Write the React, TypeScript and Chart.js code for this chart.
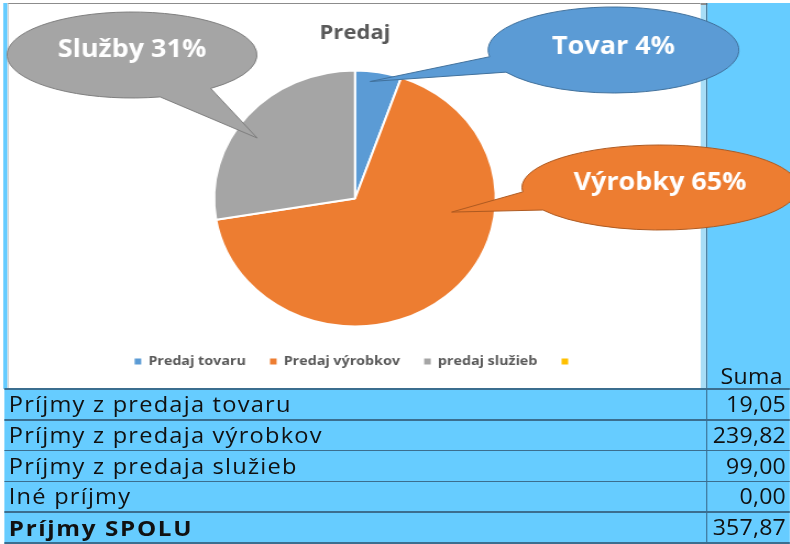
import React, { useEffect, useRef } from "react";
import { Chart, registerables } from "chart.js";

Chart.register(...registerables);

// ---- data ----
const chartTitle = "Predaj";
const legendLabels = ["Predaj tovaru", "Predaj výrobkov", "predaj služieb", ""];
const salesValues = [19.05, 239.82, 99.0, 0];
const sliceColors = ["#5B9BD5", "#ED7D31", "#A5A5A5", "#FFC000"];

const calloutTexts = ["Tovar 4%", "Výrobky 65%", "Služby 31%"];
const calloutSlices = [0, 1, 2];

const columnHeader = "Suma";
const rowLabels = [
  "Príjmy z predaja tovaru",
  "Príjmy z predaja výrobkov",
  "Príjmy z predaja služieb",
  "Iné príjmy",
];
const rowValues = [19.05, 239.82, 99.0, 0.0];
const totalLabel = "Príjmy SPOLU";
const totalValue = 357.87;

// ---- layout / style (wrapper units; whole page stretched 1.1x horizontally) ----
const STRETCH = 1.1;
const FONT = "'Open Sans', 'Noto Sans', sans-serif";
const LIGHT_BLUE = "#66CCFF";
const GRID = "#3B6E8F";

const calloutShapes = [
  { cx: 557.7, cy: 50, rx: 114, ry: 43, t1: 149, t2: 171, tipFrac: 0.35, tipR: 0.92, fill: "#5B9BD5", stroke: "#41719C", ty: 47 },
  { cx: 600, cy: 187.5, rx: 125.5, ry: 42.5, t1: 148, t2: 174, tipFrac: 0.33, tipR: 0.695, fill: "#ED7D31", stroke: "#AE5A21", ty: 183 },
  { cx: 120, cy: 55, rx: 113.6, ry: 43, t1: 51, t2: 77, tipFrac: 0.44, tipR: 0.84, fill: "#A5A5A5", stroke: "#7F7F7F", ty: 50 },
];

const fmt = (v: number) => v.toFixed(2).replace(".", ",");

const calloutPlugin = {
  id: "callouts",
  afterDraw(chart: any) {
    const ctx = chart.ctx as CanvasRenderingContext2D;
    const arcs = chart.getDatasetMeta(0).data;
    const d = Math.PI / 180;
    calloutShapes.forEach((c, i) => {
      const arc = arcs[calloutSlices[i]];
      const p = arc.getProps(["x", "y", "startAngle", "endAngle", "outerRadius"], true);
      const a = p.startAngle + (p.endAngle - p.startAngle) * c.tipFrac;
      const tx = p.x + Math.cos(a) * p.outerRadius * c.tipR;
      const ty = p.y + Math.sin(a) * p.outerRadius * c.tipR;
      ctx.save();
      ctx.beginPath();
      ctx.ellipse(c.cx, c.cy, c.rx, c.ry, 0, c.t2 * d, c.t1 * d + 2 * Math.PI, false);
      ctx.lineTo(tx, ty);
      ctx.closePath();
      ctx.fillStyle = c.fill;
      ctx.fill();
      ctx.lineWidth = 1;
      ctx.strokeStyle = c.stroke;
      ctx.stroke();
      ctx.fillStyle = "#FFFFFF";
      ctx.font = `bold 24.5px ${FONT}`;
      ctx.textAlign = "center";
      ctx.textBaseline = "middle";
      ctx.fillText(calloutTexts[i], c.cx, c.ty);
      ctx.restore();
    });
  },
};

export default function App() {
  const canvasRef = useRef<HTMLCanvasElement | null>(null);

  useEffect(() => {
    if (!canvasRef.current) return;
    const chart = new Chart(canvasRef.current, {
      type: "pie",
      data: {
        labels: legendLabels,
        datasets: [
          {
            data: salesValues,
            backgroundColor: sliceColors,
            borderColor: "#FFFFFF",
            borderWidth: 2,
            radius: 128,
          } as any,
        ],
      },
      options: {
        animation: false,
        responsive: true,
        maintainAspectRatio: false,
        layout: { padding: { left: 0, right: 72.8, top: 0, bottom: 10 } },
        plugins: {
          title: {
            display: true,
            text: chartTitle,
            color: "#595959",
            font: { size: 20, weight: "bold", family: FONT },
            padding: { top: 21, bottom: 19 },
          },
          legend: {
            position: "bottom",
            labels: {
              boxWidth: 6,
              boxHeight: 6,
              padding: 22,
              color: "#595959",
              font: { size: 13, weight: "bold", family: FONT },
              generateLabels: (c: any) => {
                const items = (Chart as any).overrides.pie.plugins.legend.labels.generateLabels(c);
                return items.map((it: any) => ({ ...it, lineWidth: 0 }));
              },
            },
          },
          tooltip: { enabled: false },
        },
      },
      plugins: [calloutPlugin],
    } as any);
    return () => chart.destroy();
  }, []);

  const rowH = 30.8;
  const tableTop = 389;
  const allRows = [...rowLabels.map((l, i) => ({ l, v: rowValues[i], b: false })), { l: totalLabel, v: totalValue, b: true }];

  return (
    <div style={{ position: "absolute", left: 0, top: 0, width: 790, height: 544, overflow: "hidden", background: "#FFFFFF" }}>
      <div
        style={{
          position: "absolute",
          left: 0,
          top: 0,
          width: 790 / STRETCH,
          height: 544,
          transform: `scaleX(${STRETCH})`,
          transformOrigin: "0 0",
          fontFamily: FONT,
        }}
      >
        {/* left blue strip */}
        <div style={{ position: "absolute", left: 2.7, top: 3, width: 4.1, height: 386, background: LIGHT_BLUE }} />
        {/* chart box */}
        <div
          style={{
            position: "absolute",
            left: 6.8,
            top: 3,
            width: 630.5,
            height: 385,
            background: "#FFFFFF",
            borderTop: "1.5px solid #8C8C8C",
            borderLeft: "1px solid #D0D0D0",
            boxSizing: "border-box",
          }}
        />
        {/* right blue column */}
        <div style={{ position: "absolute", left: 637.3, top: 3, width: 5.4, height: 386, background: "#A8DDF6" }} />
        <div style={{ position: "absolute", left: 642.7, top: 3, width: 76, height: 386, background: LIGHT_BLUE }} />
        <div style={{ position: "absolute", left: 637.3, top: 3, width: 5.4, height: 1.5, background: "#8C8C8C" }} />
        {/* table background */}
        <div style={{ position: "absolute", left: 3.6, top: tableTop, width: 714.6, height: 544 - tableTop, background: LIGHT_BLUE }} />
        {/* horizontal lines */}
        {[0, 1, 2, 3, 4, 5].map((i) => (
          <div
            key={"h" + i}
            style={{ position: "absolute", left: 3.6, top: tableTop - 0.8 + rowH * i, width: 714.6, height: 1.5, background: GRID }}
          />
        ))}
        {/* vertical line */}
        <div style={{ position: "absolute", left: 642.3, top: 3, width: 1, height: 541, background: GRID }} />
        {/* Suma header */}
        <div
          style={{
            position: "absolute",
            right: 6.4,
            top: 362,
            height: 28,
            lineHeight: "28px",
            fontSize: 21,
            letterSpacing: 0.3,
            color: "#111",
            textAlign: "right",
          }}
        >
          {columnHeader}
        </div>
        {/* rows */}
        {allRows.map((r, i) => (
          <React.Fragment key={"r" + i}>
            <div
              style={{
                position: "absolute",
                left: 8,
                top: tableTop + rowH * i,
                height: rowH,
                lineHeight: rowH + "px",
                fontSize: r.b ? 22 : 21.5,
                fontWeight: r.b ? 700 : 400,
                letterSpacing: r.b ? 1.5 : 1.1,
                color: "#111",
                whiteSpace: "nowrap",
              }}
            >
              {r.l}
            </div>
            <div
              style={{
                position: "absolute",
                right: 3.6,
                top: tableTop + rowH * i,
                height: rowH,
                lineHeight: rowH + "px",
                fontSize: 21,
                letterSpacing: 0.2,
                color: "#111",
                textAlign: "right",
                whiteSpace: "nowrap",
              }}
            >
              {fmt(r.v)}
            </div>
          </React.Fragment>
        ))}
        {/* chart canvas */}
        <div style={{ position: "absolute", left: 0, top: 0, width: 790 / STRETCH, height: 388 }}>
          <canvas ref={canvasRef} />
        </div>
      </div>
    </div>
  );
}
